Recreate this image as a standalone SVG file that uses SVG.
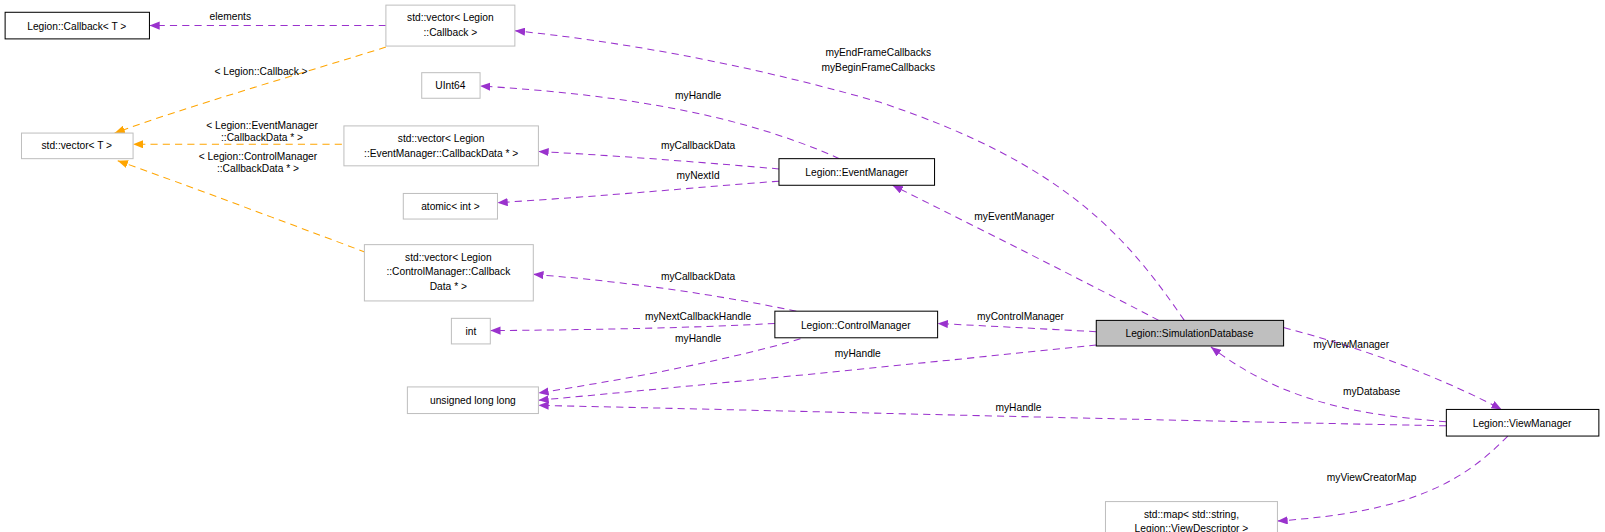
<svg xmlns="http://www.w3.org/2000/svg" width="1605" height="532" viewBox="0 0 1605 532">
<style>
text{font-family:"Liberation Sans",Arial,sans-serif;font-size:10px;fill:#000}
.c text,.n text{text-anchor:middle}
.g{fill:#fff;stroke:#bfbfbf;stroke-width:1}
.b{fill:#fff;stroke:#000;stroke-width:1}
.s{fill:#bfbfbf;stroke:#000;stroke-width:1}
.p{fill:none;stroke:#9a32cd;stroke-dasharray:7,5;stroke-width:1}
.o{fill:none;stroke:#ffa500;stroke-dasharray:7,5;stroke-width:1}
</style>
<defs>
<marker id="mp" viewBox="0 0 10 8" refX="10" refY="4" markerWidth="10" markerHeight="8" markerUnits="userSpaceOnUse" orient="auto"><path d="M0,0L10,4L0,8z" fill="#9a32cd"/></marker>
<marker id="mo" viewBox="0 0 10 8" refX="10" refY="4" markerWidth="10" markerHeight="8" markerUnits="userSpaceOnUse" orient="auto"><path d="M0,0L10,4L0,8z" fill="#ffa500"/></marker>
</defs>
<g transform="scale(1.0236)">
<g class="c">
<path class="p" d="M377,25L146,25" marker-end="url(#mp)"/><text x="225" y="20">elements</text>
<path class="o" d="M377,46C300,70 180,105 112,130" marker-end="url(#mo)"/><text x="255" y="73">&lt; Legion::Callback &gt;</text>
<path class="o" d="M346,141L130,141" marker-end="url(#mo)"/><text x="256" y="126">&lt; Legion::EventManager</text><text x="256" y="138">::CallbackData * &gt;</text>
<path class="o" d="M380,255C300,225 180,180 115,157" marker-end="url(#mo)"/><text x="252" y="156">&lt; Legion::ControlManager</text><text x="252" y="168">::CallbackData * &gt;</text>
<path class="p" d="M1157,313C1100,230 1040,160 860,100C720,60 600,40 503,30" marker-end="url(#mp)"/><text x="858" y="55">myEndFrameCallbacks</text><text x="858" y="69">myBeginFrameCallbacks</text>
<path class="p" d="M820,155C720,110 600,92 469,84" marker-end="url(#mp)"/><text x="682" y="97">myHandle</text>
<path class="p" d="M761,165C700,160 620,153 526,148" marker-end="url(#mp)"/><text x="682" y="146">myCallbackData</text>
<path class="p" d="M761,177C680,183 600,191 486,198" marker-end="url(#mp)"/><text x="682" y="175">myNextId</text>
<path class="p" d="M1132,313C1050,270 960,225 872,181" marker-end="url(#mp)"/><text x="991" y="215">myEventManager</text>
<path class="p" d="M778,304C700,288 620,276 521,268" marker-end="url(#mp)"/><text x="682" y="274">myCallbackData</text>
<path class="p" d="M757,316C680,320 600,322 479,323" marker-end="url(#mp)"/><text x="682" y="313">myNextCallbackHandle</text>
<path class="p" d="M782,331C700,355 600,372 526,384" marker-end="url(#mp)"/><text x="682" y="334">myHandle</text>
<path class="p" d="M1071,324L916,316" marker-end="url(#mp)"/><text x="997" y="313">myControlManager</text>
<path class="p" d="M1071,337C900,355 700,375 526,391" marker-end="url(#mp)"/><text x="838" y="349">myHandle</text>
<path class="p" d="M1254,320C1330,340 1400,365 1467,400" marker-end="url(#mp)"/><text x="1320" y="340">myViewManager</text>
<path class="p" d="M1413,412C1320,405 1250,390 1183,339" marker-end="url(#mp)"/><text x="1340" y="386">myDatabase</text>
<path class="p" d="M1413,416C1100,410 800,402 526,396" marker-end="url(#mp)"/><text x="995" y="402">myHandle</text>
<path class="p" d="M1473,426C1430,470 1380,500 1248,509" marker-end="url(#mp)"/><text x="1340" y="470">myViewCreatorMap</text>
</g>
<g class="n">
<g id="callbackT"><rect class="b" x="5" y="12" width="141" height="26"/><text x="75" y="29">Legion::Callback&lt; T &gt;</text></g>
<g id="vecCallback"><rect class="g" x="377" y="5" width="126" height="40"/><text x="440" y="21">std::vector&lt; Legion</text><text x="440" y="35">::Callback &gt;</text></g>
<g id="uint64"><rect class="g" x="412" y="71" width="57" height="25"/><text x="440" y="87">UInt64</text></g>
<g id="vecT"><rect class="g" x="21" y="130" width="109" height="25"/><text x="75" y="146">std::vector&lt; T &gt;</text></g>
<g id="vecEM"><rect class="g" x="336" y="123" width="190" height="39"/><text x="431" y="139">std::vector&lt; Legion</text><text x="431" y="153">::EventManager::CallbackData * &gt;</text></g>
<g id="atomic"><rect class="g" x="394" y="189" width="92" height="25"/><text x="440" y="205">atomic&lt; int &gt;</text></g>
<g id="vecCM"><rect class="g" x="356" y="239" width="165" height="55"/><text x="438" y="255">std::vector&lt; Legion</text><text x="438" y="269">::ControlManager::Callback</text><text x="438" y="283">Data * &gt;</text></g>
<g id="int"><rect class="g" x="441" y="311" width="38" height="25"/><text x="460" y="327">int</text></g>
<g id="ull"><rect class="g" x="398" y="378" width="128" height="26"/><text x="462" y="395">unsigned long long</text></g>
<g id="eventManager"><rect class="b" x="761" y="155" width="152" height="26"/><text x="837" y="172">Legion::EventManager</text></g>
<g id="controlManager"><rect class="b" x="757" y="304" width="159" height="26"/><text x="836" y="321">Legion::ControlManager</text></g>
<g id="simDB"><rect class="s" x="1071" y="313" width="183" height="25"/><text x="1162" y="329">Legion::SimulationDatabase</text></g>
<g id="viewManager"><rect class="b" x="1413" y="400" width="149" height="26"/><text x="1487" y="417">Legion::ViewManager</text></g>
<g id="map"><rect class="g" x="1080" y="490" width="168" height="39"/><text x="1164" y="506">std::map&lt; std::string,</text><text x="1164" y="520">Legion::ViewDescriptor &gt;</text></g>
</g>
</g>
</svg>
